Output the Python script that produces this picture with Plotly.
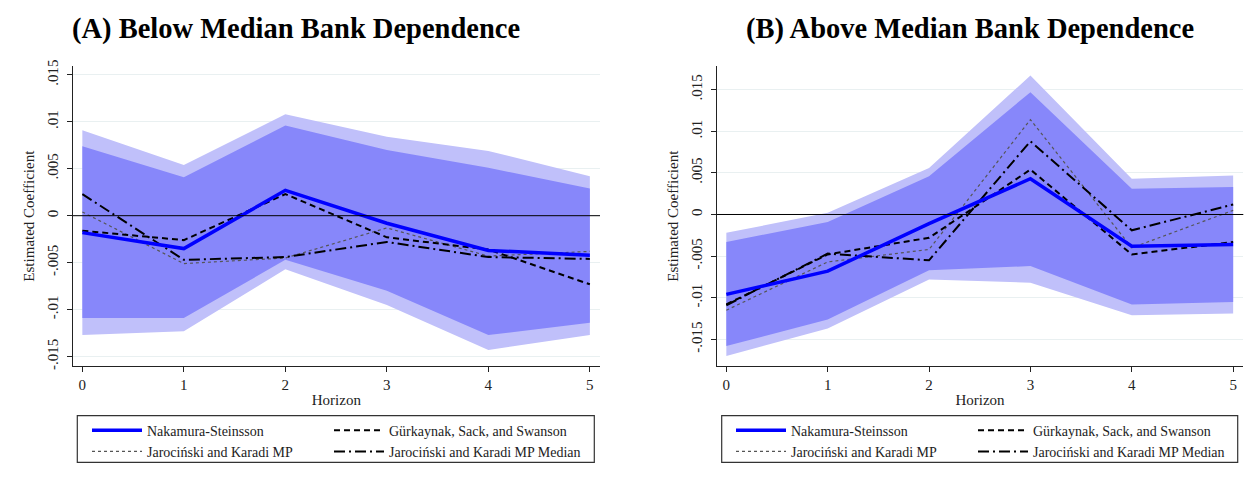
import plotly.graph_objects as go

# ---------------- data ----------------
horizon = [0, 1, 2, 3, 4, 5]
x_ticks = [0, 1, 2, 3, 4, 5]
y_tickvals = [-0.015, -0.01, -0.005, 0, 0.005, 0.01, 0.015]
y_ticktext = ["-.015", "-.01", "-.005", "0", ".005", ".01", ".015"]

series_names = ["Nakamura-Steinsson", "Gürkaynak, Sack, and Swanson",
                "Jarociński and Karadi MP", "Jarociński and Karadi MP Median"]

# Panel A: Below median bank dependence
A_ns = [-0.0018, -0.0035, 0.0027, -0.0008, -0.0037, -0.0042]
A_gss = [-0.0016, -0.0026, 0.0023, -0.0023, -0.0036, -0.0073]
A_jk = [0.0004, -0.0051, -0.0045, -0.0013, -0.0043, -0.0038]
A_jkmed = [0.0023, -0.0047, -0.0044, -0.0028, -0.0044, -0.0046]
A_outer_hi = [0.0091, 0.0054, 0.0108, 0.0084, 0.0069, 0.0042]
A_inner_hi = [0.0074, 0.0041, 0.0096, 0.0070, 0.0051, 0.0029]
A_inner_lo = [-0.0109, -0.0109, -0.0047, -0.0080, -0.0127, -0.0114]
A_outer_lo = [-0.0127, -0.0123, -0.0057, -0.0095, -0.0143, -0.0127]

# Panel B: Above median bank dependence
B_ns = [-0.0096, -0.0068, -0.0011, 0.0043, -0.0038, -0.0036]
B_gss = [-0.0108, -0.0048, -0.0028, 0.0054, -0.0048, -0.0033]
B_jk = [-0.0115, -0.0057, -0.0042, 0.0114, -0.0040, 0.0005]
B_jkmed = [-0.0109, -0.0047, -0.0055, 0.0088, -0.0019, 0.0012]
B_outer_hi = [-0.0022, 0.0002, 0.0056, 0.0167, 0.0043, 0.0047]
B_inner_hi = [-0.0033, -0.0009, 0.0046, 0.0147, 0.0031, 0.0033]
B_inner_lo = [-0.0158, -0.0126, -0.0067, -0.0062, -0.0108, -0.0105]
B_outer_lo = [-0.0170, -0.0137, -0.0078, -0.0082, -0.0121, -0.0119]

panel_titles = ["(A) Below Median Bank Dependence", "(B) Above Median Bank Dependence"]

# ---------------- styling ----------------
W, H = 1247, 487
FONT = "Liberation Serif"
OUTER = "#c0c0fa"
INNER = "#8787fa"

fig = go.Figure()

panels = [
    dict(xa="x", ya="y", ns=A_ns, gss=A_gss, jk=A_jk, jkmed=A_jkmed,
         ohi=A_outer_hi, ihi=A_inner_hi, ilo=A_inner_lo, olo=A_outer_lo,
         legs=("legend", "legend2")),
    dict(xa="x2", ya="y2", ns=B_ns, gss=B_gss, jk=B_jk, jkmed=B_jkmed,
         ohi=B_outer_hi, ihi=B_inner_hi, ilo=B_inner_lo, olo=B_outer_lo,
         legs=("legend3", "legend4")),
]

for p in panels:
    xa, ya = p["xa"], p["ya"]
    # confidence bands
    fig.add_trace(go.Scatter(x=horizon + horizon[::-1], y=p["ohi"] + p["olo"][::-1],
                             fill="toself", fillcolor=OUTER, line=dict(width=0),
                             mode="lines", showlegend=False, hoverinfo="skip",
                             xaxis=xa, yaxis=ya))
    fig.add_trace(go.Scatter(x=horizon + horizon[::-1], y=p["ihi"] + p["ilo"][::-1],
                             fill="toself", fillcolor=INNER, line=dict(width=0),
                             mode="lines", showlegend=False, hoverinfo="skip",
                             xaxis=xa, yaxis=ya))
    l1, l2 = p["legs"]
    fig.add_trace(go.Scatter(x=horizon, y=p["jk"], mode="lines", name=series_names[2],
                             line=dict(color="#555555", width=1.2, dash="dot"),
                             xaxis=xa, yaxis=ya, legend=l1, legendrank=2))
    fig.add_trace(go.Scatter(x=horizon, y=p["jkmed"], mode="lines", name=series_names[3],
                             line=dict(color="black", width=2, dash="11px,4px,2px,4px"),
                             xaxis=xa, yaxis=ya, legend=l2, legendrank=2))
    fig.add_trace(go.Scatter(x=horizon, y=p["gss"], mode="lines", name=series_names[1],
                             line=dict(color="black", width=2, dash="6px,4px"),
                             xaxis=xa, yaxis=ya, legend=l2, legendrank=1))
    fig.add_trace(go.Scatter(x=horizon, y=p["ns"], mode="lines", name=series_names[0],
                             line=dict(color="#0000ff", width=3.5),
                             xaxis=xa, yaxis=ya, legend=l1, legendrank=1))

def px_x(v):
    return v / W

def px_y(v):
    return 1 - v / H

axis_common = dict(showline=True, linecolor="#222222", linewidth=1.2,
                   ticks="outside", ticklen=5, tickcolor="#222222", tickwidth=1.2,
                   tickfont=dict(family=FONT, size=15, color="#222222"))

xcommon = dict(axis_common, range=[-0.095, 5.1], tickvals=x_ticks, showgrid=False,
               zeroline=False,
               title=dict(text="Horizon", font=dict(family=FONT, size=15, color="#222222"),
                          standoff=2))
ycommon = dict(axis_common, tickvals=y_tickvals, ticktext=y_ticktext, tickangle=-90,
               showgrid=True, gridcolor="#e9f0f1", gridwidth=1, zeroline=False,
               ticklabelstandoff=3,
               title=dict(text="Estimated Coefficient",
                          font=dict(family=FONT, size=15, color="#222222"), standoff=6))

ydom = [px_y(367.3), px_y(60.7)]
fig.update_layout(
    xaxis=dict(xcommon, domain=[px_x(72.7), px_x(600)], anchor="y"),
    yaxis=dict(ycommon, domain=ydom, range=[-0.016, 0.0159], anchor="x"),
    xaxis2=dict(xcommon, domain=[px_x(716.7), px_x(1243.3)], anchor="y2"),
    yaxis2=dict(ycommon, domain=ydom, range=[-0.0182, 0.0178], anchor="x2"),
)

# zero reference lines above the bands
for xa, ya in (("x", "y"), ("x2", "y2")):
    fig.add_shape(type="line", xref=f"{xa} domain", yref=ya, x0=0, x1=1, y0=0, y1=0,
                  line=dict(color="black", width=1), layer="above")

# titles
for text, cx in zip(panel_titles, (296, 970)):
    fig.add_annotation(text=f"<b>{text}</b>", xref="paper", yref="paper",
                       x=px_x(cx), y=px_y(22), xanchor="center", yanchor="middle",
                       showarrow=False, font=dict(family=FONT, size=28.5, color="black"))

# legend boxes
for x0, x1 in ((77.3, 594.3), (721.7, 1237.7)):
    fig.add_shape(type="rect", xref="paper", yref="paper",
                  x0=px_x(x0), x1=px_x(x1), y0=px_y(466), y1=px_y(418),
                  line=dict(color="#333333", width=1.2), fillcolor="rgba(0,0,0,0)",
                  layer="above")

leg_common = dict(orientation="v", yanchor="top", xanchor="left", borderwidth=0,
                  bgcolor="rgba(0,0,0,0)", itemwidth=50, tracegroupgap=0,
                  font=dict(family=FONT, size=14, color="#222222"))
fig.update_layout(
    legend=dict(leg_common, x=px_x(87), y=px_y(417)),
    legend2=dict(leg_common, x=px_x(329), y=px_y(417)),
    legend3=dict(leg_common, x=px_x(731), y=px_y(417)),
    legend4=dict(leg_common, x=px_x(973), y=px_y(417)),
)

fig.update_layout(width=W, height=H, margin=dict(l=0, r=0, t=0, b=0),
                  paper_bgcolor="white", plot_bgcolor="white",
                  font=dict(family=FONT, color="#222222"))

fig.write_html("out.html", config={"displayModeBar": False},
               post_script="document.body.style.margin='0px';document.body.style.overflow='hidden';")
